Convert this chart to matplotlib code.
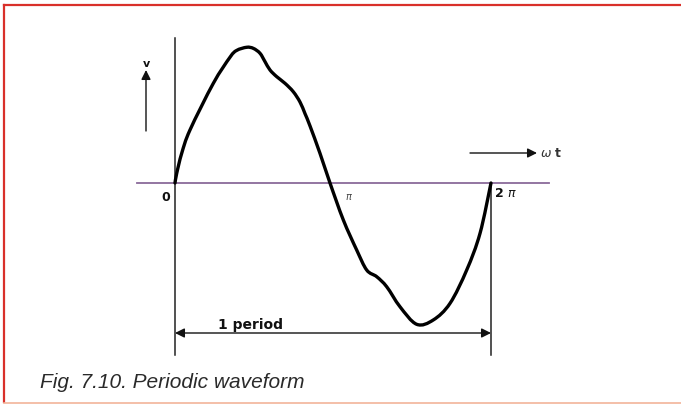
import numpy as np
import matplotlib.pyplot as plt
from matplotlib.lines import Line2D
from matplotlib.path import Path
from matplotlib.patches import PathPatch

# Traced waveform over one period: phase (rad) and normalised voltage
phase = [0.000, 0.034, 0.133, 0.298, 0.762, 1.094, 1.227, 1.426, 1.557,
         1.690, 1.790, 1.889, 2.022, 2.187, 2.352, 2.486, 2.585, 2.684,
         2.883, 3.082, 3.347, 3.613, 3.812, 4.011, 4.210, 4.474, 4.806,
         5.136, 5.468, 5.800, 6.065, 6.283]
voltage = [0.000, 0.071, 0.218, 0.390, 0.733, 0.925, 0.975, 0.998, 0.990,
           0.954, 0.892, 0.831, 0.782, 0.733, 0.671, 0.595, 0.510, 0.420,
           0.218, 0.000, -0.272, -0.493, -0.640, -0.689, -0.763, -0.910,
           -1.039, -1.007, -0.885, -0.640, -0.370, 0.000]

tick_pos = [0.0, np.pi, 2 * np.pi]
tick_text = ["0", r"$\pi$", r"2 $\pi$"]
caption = "Fig. 7.10. Periodic waveform"

W, H = 681, 404
fig = plt.figure(figsize=(W / 100, H / 100), dpi=100)
fig.patch.set_facecolor("white")

# Frame around the figure
frame = fig.add_axes([0, 0, 1, 1])
frame.set_xlim(0, W)
frame.set_ylim(H, 0)
frame.axis("off")
frame.add_line(Line2D([4, 4], [5, 402], color="#d9302a", lw=1.6))
frame.add_line(Line2D([4, 681], [5, 5], color="#d9302a", lw=1.6))
frame.add_line(Line2D([4, 681], [402.5, 402.5], color="#f2b49a", lw=1.2))
frame.text(40, 383, caption, fontsize=15, style="italic", color="#2a2a2a",
           family="Liberation Sans", va="center", ha="left")

# Plot axes: 0..2pi spans 175..491 px, unit amplitude = 136 px
sx = 316 / (2 * np.pi)
sy = 136.0
ax = fig.add_axes([0, 0, 1, 1])
ax.patch.set_alpha(0)
ax.set_xlim(-175 / sx, (W - 175) / sx)
ax.set_ylim(-(H - 183) / sy, 183 / sy)
ax.axis("off")

def py(v):
    return (183 - v) / sy

def px(u):
    return (u - 175) / sx

# horizontal (time) axis
ax.plot([px(137), px(549)], [0, 0], color="#8a6a9a", lw=1.3, zorder=2)
# vertical axis at 0
ax.plot([0, 0], [py(38), py(355)], color="#222222", lw=1.1, zorder=2)
# vertical marker at 2pi
ax.plot([2 * np.pi, 2 * np.pi], [py(185), py(355)], color="#222222", lw=1.1, zorder=2)

# waveform: smooth Bezier path through the traced points (Catmull-Rom tangents)
pts = np.column_stack([phase, voltage])
verts = [tuple(pts[0])]
codes = [Path.MOVETO]
n = len(pts)
for i in range(n - 1):
    p0 = pts[max(i - 1, 0)]
    p1 = pts[i]
    p2 = pts[i + 1]
    p3 = pts[min(i + 2, n - 1)]
    c1 = p1 + (p2 - p0) / 6.0
    c2 = p2 - (p3 - p1) / 6.0
    verts += [tuple(c1), tuple(c2), tuple(p2)]
    codes += [Path.CURVE4] * 3
ax.add_patch(PathPatch(Path(verts, codes), facecolor="none", edgecolor="black",
                       lw=2.4, capstyle="round", joinstyle="round", zorder=3))

# tick labels
ax.text(px(166), py(197), tick_text[0], fontsize=9,
        fontweight="bold", ha="center", va="center", color="#111111")
ax.text(px(349), py(197), tick_text[1], fontsize=7, ha="center", va="center",
        color="#444444")
ax.text(px(494), py(193), tick_text[2], fontsize=9, fontweight="bold",
        ha="left", va="center", color="#111111")

# v arrow
ax.annotate("", xy=(px(146), py(70)), xytext=(px(146), py(131)),
            arrowprops=dict(arrowstyle="-|>", color="#111111", lw=1.0,
                            mutation_scale=14, shrinkA=0, shrinkB=0))
ax.text(px(146), py(64), "v", fontsize=8, fontweight="bold", ha="center",
        va="center", color="#111111")

# omega t arrow
ax.annotate("", xy=(px(537), py(153)), xytext=(px(470), py(153)),
            arrowprops=dict(arrowstyle="-|>", color="#111111", lw=1.0,
                            mutation_scale=14, shrinkA=0, shrinkB=0))
ax.text(px(540), py(153), r"$\omega$" + " t", fontsize=9, fontweight="bold",
        ha="left", va="center", color="#333333")

# one period span
ax.annotate("", xy=(tick_pos[0], py(333)), xytext=(tick_pos[2], py(333)),
            arrowprops=dict(arrowstyle="<|-|>", color="#111111", lw=1.0,
                            mutation_scale=14, shrinkA=0, shrinkB=0))
ax.text(px(218), py(325), "1 period", fontsize=10, ha="left", va="center",
        color="#111111", fontweight="bold")

fig.savefig("out.png", dpi=100)
